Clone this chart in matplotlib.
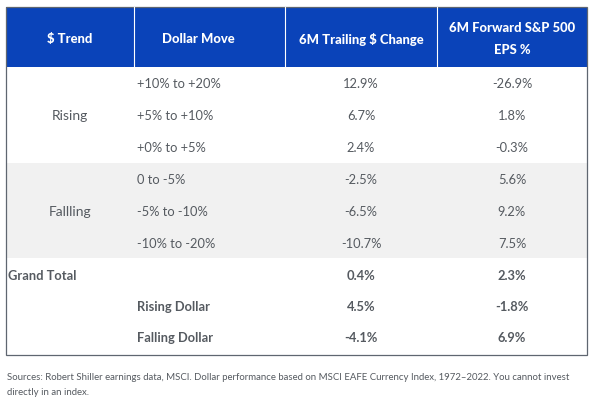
import matplotlib
matplotlib.use("Agg")
import matplotlib.pyplot as plt
import matplotlib.patches as mpatches

HEADER_BG = "#0A43B9"
BAND_BG = "#F1F1F1"
TEXT_COLOR = "#555A60"
BORDER = "#5F6670"
FONT = ["Lato", "DejaVu Sans"]

headers = ["$ Trend", "Dollar Move", "6M Trailing $ Change", "6M Forward S&P 500\nEPS %"]
trends = ["Rising", "Fallling"]
moves = ["+10% to +20%", "+5% to +10%", "+0% to +5%",
         "0 to -5%", "-5% to -10%", "-10% to -20%"]
trailing = ["12.9%", "6.7%", "2.4%", "-2.5%", "-6.5%", "-10.7%"]
forward = ["-26.9%", "1.8%", "-0.3%", "5.6%", "9.2%", "7.5%"]
summary_labels = ["Grand Total", "Rising Dollar", "Falling Dollar"]
summary_trailing = ["0.4%", "4.5%", "-4.1%"]
summary_forward = ["2.3%", "-1.8%", "6.9%"]
footnote = ("Sources: Robert Shiller earnings data, MSCI. Dollar performance based on MSCI EAFE Currency Index, 1972\u20132022. You cannot invest\n"
            "directly in an index.")

W, H = 592, 406
fig = plt.figure(figsize=(W / 100, H / 100), dpi=100)
ax = fig.add_axes([0, 0, 1, 1])
ax.set_xlim(0, W)
ax.set_ylim(H, 0)
ax.axis("off")

left, right, top, bottom = 6, 587, 8, 356
col_edges = [left, 134, 285, 437, right]
col_centers = [70, 198, 361, 512]
header_bottom = 68
row_h = 32
row_y0 = 84
sum_y0, sum_h = 276, 31

BODY_FS = 9.3

# header
ax.add_patch(mpatches.Rectangle((left, top), right - left, header_bottom - top,
                                facecolor=HEADER_BG, edgecolor="none"))
for x in col_edges[1:-1]:
    ax.plot([x, x], [top, header_bottom], color="white", lw=0.8)
for i, h in enumerate(headers):
    ax.text(col_centers[i], (top + header_bottom) / 2 + 1, h, color="white",
            fontsize=9.4, fontweight="black", ha="center", va="center",
            family=FONT, linespacing=2.05)

# band for falling group
band_top = row_y0 + 2.5 * row_h
ax.add_patch(mpatches.Rectangle((left, band_top), right - left, 3 * row_h - 1,
                                facecolor=BAND_BG, edgecolor="none"))

# body rows
for i, (m, t, f) in enumerate(zip(moves, trailing, forward)):
    y = row_y0 + i * row_h
    ax.text(137, y, m, color=TEXT_COLOR, fontsize=BODY_FS, ha="left", va="center", family=FONT)
    ax.text(col_centers[2], y, t, color=TEXT_COLOR, fontsize=BODY_FS, ha="center", va="center", family=FONT)
    ax.text(col_centers[3], y, f, color=TEXT_COLOR, fontsize=BODY_FS, ha="center", va="center", family=FONT)
for g, trend in enumerate(trends):
    y = row_y0 + (3 * g + 1) * row_h
    ax.text(col_centers[0], y, trend, color=TEXT_COLOR, fontsize=10, ha="center", va="center", family=FONT)

# summary rows
for i, (lab, t, f) in enumerate(zip(summary_labels, summary_trailing, summary_forward)):
    y = sum_y0 + i * sum_h
    x = 8 if i == 0 else 137
    ax.text(x, y, lab, color=TEXT_COLOR, fontsize=BODY_FS, fontweight="bold", ha="left", va="center", family=FONT)
    ax.text(col_centers[2], y, t, color=TEXT_COLOR, fontsize=BODY_FS, fontweight="bold", ha="center", va="center", family=FONT)
    ax.text(col_centers[3], y, f, color=TEXT_COLOR, fontsize=BODY_FS, fontweight="bold", ha="center", va="center", family=FONT)

# outer border
ax.add_patch(mpatches.Rectangle((left, top), right - left, bottom - top,
                                facecolor="none", edgecolor=BORDER, lw=0.9))

ax.text(7, 385, footnote, color=TEXT_COLOR, fontsize=6.95, ha="left", va="center",
        family=FONT, linespacing=1.85)

fig.savefig("out.png", dpi=100)
